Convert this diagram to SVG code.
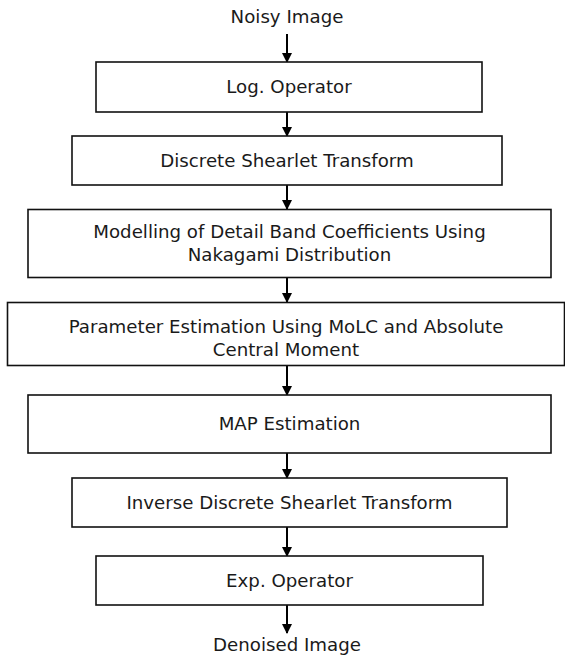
<svg xmlns="http://www.w3.org/2000/svg" width="565" height="657" viewBox="0 0 565 657">
  <style>
    .box { fill: #ffffff; stroke: #111111; stroke-width: 1.6; }
    .lbl { font-family: "DejaVu Sans", Verdana, sans-serif; font-size: 18.2px; fill: #1a1a1a; text-anchor: middle; }
    .edge { stroke: #000000; stroke-width: 2; fill: none; marker-end: url(#arrow); }
  </style>
  <defs>
    <marker id="arrow" markerWidth="10" markerHeight="11" refX="9" refY="5" orient="auto" markerUnits="userSpaceOnUse" viewBox="0 0 10 10">
      <path d="M0,0 L10,5 L0,10 z" fill="#000000"/>
    </marker>
  </defs>
  <rect width="565" height="657" fill="#ffffff"/>

  <!-- flow connectors -->
  <g id="connectors">
    <line class="edge" x1="287" y1="34" x2="287" y2="62"/>
    <line class="edge" x1="287" y1="112" x2="287" y2="136"/>
    <line class="edge" x1="287" y1="185" x2="287" y2="209"/>
    <line class="edge" x1="287" y1="278" x2="287" y2="302"/>
    <line class="edge" x1="287" y1="366" x2="287" y2="395"/>
    <line class="edge" x1="287" y1="453" x2="287" y2="478"/>
    <line class="edge" x1="287" y1="527" x2="287" y2="556"/>
    <line class="edge" x1="287" y1="605" x2="287" y2="633"/>
  </g>

  <g id="input">
    <text class="lbl" x="287" y="23">Noisy Image</text>
  </g>

  <g id="log-operator">
    <rect class="box" x="96" y="62" width="386" height="50"/>
    <text class="lbl" x="289" y="93">Log. Operator</text>
  </g>

  <g id="shearlet-transform">
    <rect class="box" x="72" y="136" width="430" height="49"/>
    <text class="lbl" x="287" y="167">Discrete Shearlet Transform</text>
  </g>

  <g id="nakagami-model">
    <rect class="box" x="28" y="209.5" width="523" height="68"/>
    <text class="lbl" x="289.5" y="238">Modelling of Detail Band Coefficients Using</text>
    <text class="lbl" x="289.5" y="261">Nakagami Distribution</text>
  </g>

  <g id="parameter-estimation">
    <rect class="box" x="7.5" y="302.5" width="557" height="63"/>
    <text class="lbl" x="286" y="333">Parameter Estimation Using MoLC and Absolute</text>
    <text class="lbl" x="286" y="356">Central Moment</text>
  </g>

  <g id="map-estimation">
    <rect class="box" x="28" y="395" width="523" height="58"/>
    <text class="lbl" x="289.5" y="430">MAP Estimation</text>
  </g>

  <g id="inverse-shearlet">
    <rect class="box" x="72" y="478" width="435" height="49"/>
    <text class="lbl" x="289.5" y="509">Inverse Discrete Shearlet Transform</text>
  </g>

  <g id="exp-operator">
    <rect class="box" x="96" y="556" width="387" height="49"/>
    <text class="lbl" x="289.5" y="587">Exp. Operator</text>
  </g>

  <g id="output">
    <text class="lbl" x="287" y="651">Denoised Image</text>
  </g>
</svg>
